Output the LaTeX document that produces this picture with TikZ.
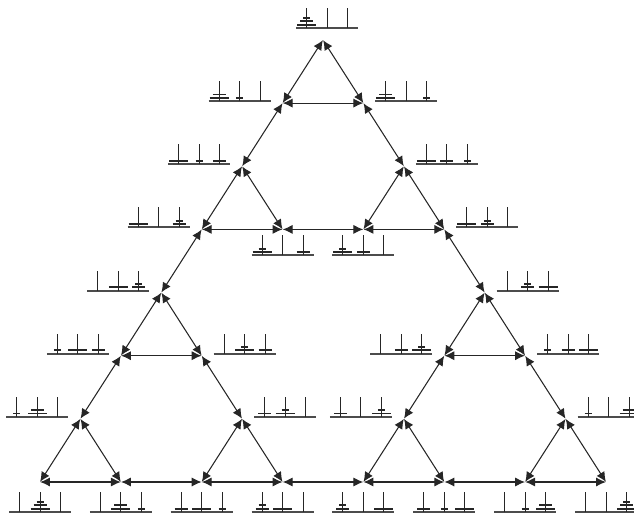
\documentclass[tikz,border=0pt]{standalone}
\usetikzlibrary{arrows.meta}

\begin{document}
\begin{tikzpicture}[
  x=0.5mm, y=-0.5mm,
  pt/.style={inner sep=0pt, minimum size=0pt},
  move/.style={{Latex[length=14pt,width=13pt]}-{Latex[length=14pt,width=13pt]}, line width=1.5pt, black!85},
  base/.style={line width=2.6pt, black!70},
  peg/.style={line width=1.4pt, black!85},
  disk/.style={line width=2.8pt, black!85},
  pics/hanoi/.style n args={3}{code={
    \pgfmathtruncatemacro\lvB{(#2==#1)}
    \pgfmathtruncatemacro\lvC{(#3==#1)+(#3==#2)}
    \draw[base] (-31,0) -- (31,0);
    \foreach \p in {1,2,3} {\draw[peg] ({20.5*(\p-2)},0) -- ++(0,-20);}
    \draw[disk] ({20.5*(#1-2)-9.5},-3.3) -- ++(19,0);
    \draw[disk] ({20.5*(#2-2)-6.5},{-3.3-3.3*\lvB}) -- ++(13,0);
    \draw[disk] ({20.5*(#3-2)-3.5},{-3.3-3.3*\lvC}) -- ++(7,0);
  }}
]
\useasboundingbox (0,0) rectangle (634,519);
% States, largest disk first
\node[pt] (s111) at (323,40) {};
\node[pt] (s112) at (282.6,103.1) {};
\node[pt] (s113) at (363.4,103.1) {};
\node[pt] (s132) at (242.1,166.3) {};
\node[pt] (s123) at (403.9,166.3) {};
\node[pt] (s133) at (201.7,229.4) {};
\node[pt] (s131) at (282.6,229.4) {};
\node[pt] (s121) at (363.4,229.4) {};
\node[pt] (s122) at (444.3,229.4) {};
\node[pt] (s233) at (161.3,292.6) {};
\node[pt] (s322) at (484.7,292.6) {};
\node[pt] (s231) at (120.9,355.7) {};
\node[pt] (s232) at (201.7,355.7) {};
\node[pt] (s323) at (444.3,355.7) {};
\node[pt] (s321) at (525.1,355.7) {};
\node[pt] (s221) at (80.4,418.8) {};
\node[pt] (s212) at (242.1,418.8) {};
\node[pt] (s313) at (403.9,418.8) {};
\node[pt] (s331) at (565.6,418.8) {};
\node[pt] (s222) at (40,482) {};
\node[pt] (s223) at (120.9,482) {};
\node[pt] (s213) at (201.7,482) {};
\node[pt] (s211) at (282.6,482) {};
\node[pt] (s311) at (363.4,482) {};
\node[pt] (s312) at (444.3,482) {};
\node[pt] (s332) at (525.1,482) {};
\node[pt] (s333) at (606,482) {};
% Pictures of the pegs
\path (s111) ++(4,-12) pic {hanoi={1}{1}{1}};
\path (s112) ++(-43,-2) pic {hanoi={1}{1}{2}};
\path (s113) ++(43,-2) pic {hanoi={1}{1}{3}};
\path (s132) ++(-43,-2) pic {hanoi={1}{3}{2}};
\path (s123) ++(43,-2) pic {hanoi={1}{2}{3}};
\path (s133) ++(-43,-2) pic {hanoi={1}{3}{3}};
\path (s131) ++(0,26) pic {hanoi={1}{3}{1}};
\path (s121) ++(0,26) pic {hanoi={1}{2}{1}};
\path (s122) ++(43,-2) pic {hanoi={1}{2}{2}};
\path (s233) ++(-43,-2) pic {hanoi={2}{3}{3}};
\path (s322) ++(43,-2) pic {hanoi={3}{2}{2}};
\path (s231) ++(-43,-2) pic {hanoi={2}{3}{1}};
\path (s232) ++(43,-2) pic {hanoi={2}{3}{2}};
\path (s323) ++(-43,-2) pic {hanoi={3}{2}{3}};
\path (s321) ++(43,-2) pic {hanoi={3}{2}{1}};
\path (s221) ++(-43,-2) pic {hanoi={2}{2}{1}};
\path (s212) ++(43,-2) pic {hanoi={2}{1}{2}};
\path (s313) ++(-43,-2) pic {hanoi={3}{1}{3}};
\path (s331) ++(43,-2) pic {hanoi={3}{3}{1}};
\path (s222) ++(0,30) pic {hanoi={2}{2}{2}};
\path (s223) ++(0,30) pic {hanoi={2}{2}{3}};
\path (s213) ++(0,30) pic {hanoi={2}{1}{3}};
\path (s211) ++(0,30) pic {hanoi={2}{1}{1}};
\path (s311) ++(0,30) pic {hanoi={3}{1}{1}};
\path (s312) ++(0,30) pic {hanoi={3}{1}{2}};
\path (s332) ++(0,30) pic {hanoi={3}{3}{2}};
\path (s333) ++(0,30) pic {hanoi={3}{3}{3}};
% Moves of the smallest disk
\draw[move] (s111) -- (s112);
\draw[move] (s111) -- (s113);
\draw[move] (s112) -- (s113);
\draw[move] (s123) -- (s121);
\draw[move] (s123) -- (s122);
\draw[move] (s121) -- (s122);
\draw[move] (s132) -- (s131);
\draw[move] (s132) -- (s133);
\draw[move] (s131) -- (s133);
\draw[move] (s233) -- (s231);
\draw[move] (s233) -- (s232);
\draw[move] (s231) -- (s232);
\draw[move] (s221) -- (s222);
\draw[move] (s221) -- (s223);
\draw[move] (s222) -- (s223);
\draw[move] (s212) -- (s211);
\draw[move] (s212) -- (s213);
\draw[move] (s211) -- (s213);
\draw[move] (s322) -- (s321);
\draw[move] (s322) -- (s323);
\draw[move] (s321) -- (s323);
\draw[move] (s313) -- (s311);
\draw[move] (s313) -- (s312);
\draw[move] (s311) -- (s312);
\draw[move] (s331) -- (s332);
\draw[move] (s331) -- (s333);
\draw[move] (s332) -- (s333);
% Moves of the middle disk
\draw[move] (s112) -- (s132);
\draw[move] (s113) -- (s123);
\draw[move] (s121) -- (s131);
\draw[move] (s231) -- (s221);
\draw[move] (s232) -- (s212);
\draw[move] (s223) -- (s213);
\draw[move] (s323) -- (s313);
\draw[move] (s321) -- (s331);
\draw[move] (s312) -- (s332);
% Moves of the largest disk
\draw[move] (s133) -- (s233);
\draw[move] (s122) -- (s322);
\draw[move] (s211) -- (s311);
\end{tikzpicture}
\end{document}
